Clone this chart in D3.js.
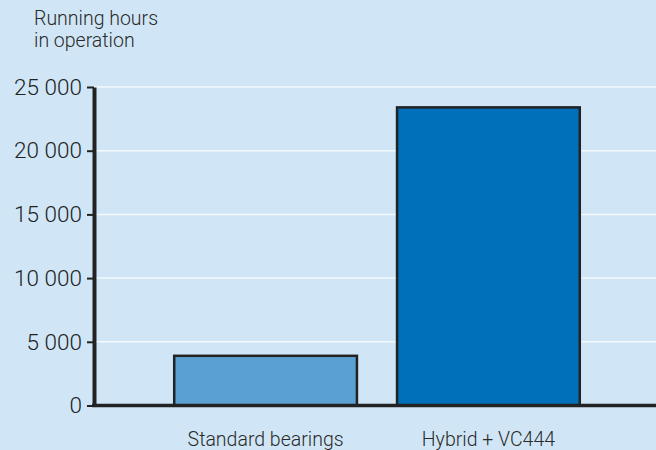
<!DOCTYPE html>
<html>
<head>
<meta charset="utf-8">
<script src="https://cdn.jsdelivr.net/npm/d3@7"></script>
<style>
  body { margin: 0; background: #d0e6f6; }
  svg { display: block; font-family: Roboto, "DejaVu Sans", sans-serif; }
</style>
</head>
<body>
<div id="chart"></div>
<script>
var categories = ["Standard bearings", "Hybrid + VC444"],
	hours = [3900, 23400],
	barColors = ["#5aa0d2", "#0070ba"],
	yTicks = [0, 5000, 10000, 15000, 20000, 25000];

var width = 656,
	height = 450,
	plotLeft = 94,
	plotTop = 87,
	plotBottom = 405.5;

var svg = d3.select("#chart")
	.append("svg")
	.attr("width", width)
	.attr("height", height);

svg.append("rect")
	.attr("width", width)
	.attr("height", height)
	.attr("fill", "#d0e6f6");

var y = d3.scaleLinear()
	.domain([0, 25000])
	.range([plotBottom, plotTop]);

var x = d3.scaleBand()
	.domain(categories)
	.range([plotLeft, 660])
	.paddingInner(0.18)
	.paddingOuter(0.36);

var fmt = function(d){
	return d3.format(",")(d).replace(/,/g, " ");
};

// gridlines
svg.selectAll("line.grid")
	.data(yTicks.filter(function(d){ return d > 0; }))
	.enter()
	.append("line")
	.attr("class", "grid")
	.attr("x1", plotLeft)
	.attr("x2", width)
	.attr("y1", function(d){ return y(d); })
	.attr("y2", function(d){ return y(d); })
	.attr("stroke", "#f4f9fd")
	.attr("stroke-width", 1.5);

// bars
svg.selectAll("rect.bar")
	.data(hours)
	.enter()
	.append("rect")
	.attr("class", "bar")
	.attr("x", function(d, i){ return x(categories[i]); })
	.attr("width", x.bandwidth())
	.attr("y", function(d){ return y(d); })
	.attr("height", function(d){ return plotBottom - y(d); })
	.attr("fill", function(d, i){ return barColors[i]; })
	.attr("stroke", "#222")
	.attr("stroke-width", 2.5);

// y axis
var yAxis = svg.append("g")
	.attr("transform", "translate(" + plotLeft + ",0)")
	.call(d3.axisLeft(y).tickValues(yTicks).tickFormat(fmt).tickSize(7).tickSizeOuter(0));
yAxis.select(".domain").attr("stroke", "#222").attr("stroke-width", 4);
yAxis.selectAll(".tick line").attr("stroke", "#222").attr("stroke-width", 2);
yAxis.selectAll(".tick text")
	.attr("x", -12)
	.attr("fill", "#222")
	.style("font-size", "22.5px")
	.style("font-family", "Roboto, sans-serif")
	.style("font-weight", "300");

// x axis
var xAxis = svg.append("g")
	.attr("transform", "translate(0," + plotBottom + ")")
	.call(d3.axisBottom(x).tickSize(0).tickSizeOuter(0));
xAxis.select(".domain")
	.attr("d", "M" + (plotLeft - 2) + ",0H" + width)
	.attr("stroke", "#222")
	.attr("stroke-width", 3.5);
xAxis.selectAll(".tick text")
	.attr("y", 40.5)
	.attr("dy", 0)
	.attr("fill", "#2a2a2a")
	.style("font-size", "19.5px")
	.style("font-family", "Roboto, sans-serif")
	.style("font-weight", "300");

// axis title
svg.append("text")
	.attr("x", 34)
	.attr("y", 25)
	.attr("fill", "#2a2a2a")
	.style("font-size", "19.5px")
	.style("font-weight", "300")
	.selectAll("tspan")
	.data(["Running hours", "in operation"])
	.enter()
	.append("tspan")
	.attr("x", 34)
	.attr("dy", function(d, i){ return i ? 22 : 0; })
	.text(function(d){ return d; });
</script>
</body>
</html>
